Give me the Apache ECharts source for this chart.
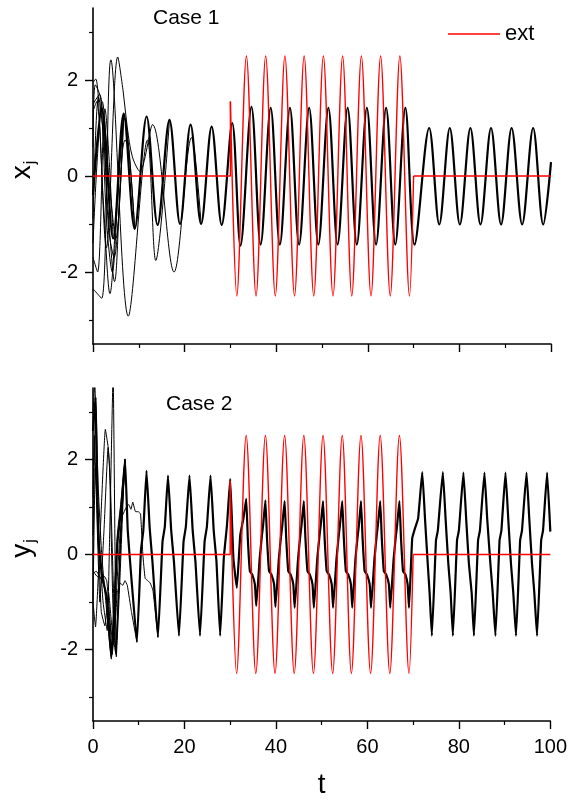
<!DOCTYPE html>
<html>
<head>
<meta charset="utf-8">
<script src="https://cdn.jsdelivr.net/npm/echarts@6/dist/echarts.min.js"></script>
<style>
  html, body { margin: 0; padding: 0; background: #fff; }
  #chart { width: 570px; height: 800px; }
</style>
</head>
<body>
<div id="chart"></div>
<script>
  // axis ticks
  var tTicks = [0, 20, 40, 60, 80, 100];
  var yMajor = [-2, 0, 2];
  var yMinor = [-3, -1, 1, 3];

  // external drive "ext" (same in both panels): off, on for 30 < t < 70, off
  var extBefore = [[0, 0], [30, 0], [30, 1.55]];
  var extOn = [[30, 1.55], [31.4, -2.5], [33.5, 2.5], [35.6, -2.5], [37.7, 2.5], [39.8, -2.5],
    [41.9, 2.5], [44.0, -2.5], [46.1, 2.5], [48.2, -2.5], [50.3, 2.5], [52.4, -2.5],
    [54.5, 2.5], [56.5, -2.5], [58.6, 2.5], [60.7, -2.5], [62.8, 2.5], [64.9, -2.5],
    [67.0, 2.5], [69.1, -2.5], [70, 0]];
  var extAfter = [[70, 0], [100, 0]];

  // Case 1, x_j : common (synchronized) trajectory
  var xMain = [[0, -0.4], [1.9, 1.4], [4.4, -1.3], [6.7, 1.3], [9.1, -1.1], [11.7, 1.24],
    [14.1, -1.02], [16.7, 1.17], [19.0, -1.0], [21.3, 1.07], [23.6, -1.0], [25.9, 1.03],
    [28.1, -1.02], [30.4, 1.1], [32.2, -1.45], [34.6, 1.44], [36.6, -1.43], [38.8, 1.42],
    [40.8, -1.43], [43.0, 1.42], [45.0, -1.43], [47.2, 1.42], [49.2, -1.43], [51.4, 1.42],
    [53.4, -1.43], [55.6, 1.42], [57.6, -1.43], [59.8, 1.42], [61.8, -1.43], [64.0, 1.42],
    [66.0, -1.43], [68.2, 1.42], [70.2, -1.43], [73.4, 1.0], [75.6, -1.01], [77.9, 1.0],
    [80.1, -1.01], [82.4, 1.0], [84.6, -1.01], [86.9, 1.0], [89.1, -1.01], [91.4, 1.0],
    [93.7, -1.01], [96.1, 1.0], [98.3, -1.01], [100, 0.29]];
  // Case 1 transients of the other units
  var xA = [[0, -2.35], [1.9, -2.55], [3.9, 2.42], [7.7, -2.92], [11.9, 0.75], [13.7, -1.76], [16.7, 1.17]];
  var xB = [[0, 1.35], [0.8, 1.55], [2.9, -1.5], [5.4, 2.48], [6.6, 1.75], [7.5, 1.0], [8.6, 0.4],
    [10.2, 0.1], [13.0, 1.07], [17.7, -2.0], [21.5, 0.8], [23.6, -1.0]];
  var xC = [[0, 1.95], [0.6, 2.02], [2.3, -0.6], [3.7, -2.45], [5.3, -0.4], [6.7, 1.3]];
  var xD = [[0, -0.9], [1.2, 1.65], [2.5, 0.6], [3.4, -1.1], [4.6, -1.7], [6.7, 1.3]];
  var xE = [[0, 1.5], [1.4, 1.7], [3.2, -0.6], [4.7, -2.2], [6.2, 0.3], [7.0, 0.75], [7.8, 0.55], [9.1, -1.1]];
  var xF = [[0, -1.4], [0.9, 0.3], [2.0, 1.55], [3.6, -0.2], [5.0, -1.3], [6.7, 1.3]];
  var xG = [[0, 0.6], [0.5, 1.9], [1.7, 1.6], [3.0, -1.0], [4.2, -2.0], [5.7, 0.1], [6.9, 1.2], [9.1, -1.1]];
  var xH = [[0, -1.7], [1.0, -2.0], [2.6, 1.4], [4.4, -1.3]];

  // Case 2, y_j : common (synchronized) trajectory
  var yMain = [[0, 2.6], [0.5, 3.3], [1.2, 0.3], [2.0, -0.45], [3.0, -0.9], [4.0, -2.15], [4.6, -1.3],
    [5.3, 0.2], [6.2, 1.0], [7.0, 2.0], [7.6, 0.5], [8.4, -0.5], [9.6, -1.84], [10.5, 0.1], [11.0, 0.5],
    [11.7, 1.76], [12.4, 0.55], [13.0, -0.15], [14.2, -1.74], [15.2, 0.27], [15.7, 0.58],
    [16.4, 1.66], [17.1, 0.5], [17.7, -0.15], [18.8, -1.71], [19.8, 0.27], [20.3, 0.58],
    [21.1, 1.66], [21.8, 0.5], [22.4, -0.15], [23.4, -1.71], [24.4, 0.27], [24.9, 0.58],
    [25.7, 1.66], [26.4, 0.5], [27.0, -0.15], [27.8, -1.71], [28.6, -0.08], [29.3, 0.62],
    [30.0, 1.59], [30.7, -0.08], [31.45, -0.7], [32.2, 0.41], [32.9, 0.76],
    [33.5, 1.17], [33.85, 0.34], [34.3, -0.35], [34.8, -0.42], [35.4, -0.63], [35.7, -1.08], [36.45, -0.08], [36.95, 0.41], [37.2, 0.62],
    [37.7, 1.14], [38.05, 0.34], [38.5, -0.35], [39.0, -0.42], [39.6, -0.63], [39.9, -1.1], [40.65, -0.08], [41.15, 0.41], [41.4, 0.62],
    [41.9, 1.12], [42.25, 0.34], [42.7, -0.35], [43.2, -0.42], [43.8, -0.63], [44.1, -1.12], [44.85, -0.08], [45.35, 0.41], [45.6, 0.62],
    [46.1, 1.12], [46.45, 0.34], [46.9, -0.35], [47.4, -0.42], [48.0, -0.63], [48.3, -1.12], [49.05, -0.08], [49.55, 0.41], [49.8, 0.62],
    [50.3, 1.12], [50.65, 0.34], [51.1, -0.35], [51.6, -0.42], [52.2, -0.63], [52.5, -1.12], [53.25, -0.08], [53.75, 0.41], [54.0, 0.62],
    [54.5, 1.12], [54.85, 0.34], [55.3, -0.35], [55.8, -0.42], [56.4, -0.63], [56.7, -1.12], [57.4, -0.08], [57.9, 0.41], [58.15, 0.62],
    [58.6, 1.12], [58.95, 0.34], [59.4, -0.35], [59.9, -0.42], [60.5, -0.63], [60.8, -1.12], [61.55, -0.08], [62.05, 0.41], [62.3, 0.62],
    [62.8, 1.12], [63.15, 0.34], [63.6, -0.35], [64.1, -0.42], [64.7, -0.63], [65.0, -1.12], [65.75, -0.08], [66.25, 0.41], [66.5, 0.62],
    [67.0, 1.12], [67.35, 0.34], [67.8, -0.35], [68.3, -0.42], [68.8, -0.63], [69.1, -1.12], [69.8, 0.34], [70.4, 0.55], [71.1, 0.76],
    [72.0, 1.73], [72.6, 0.75], [73.2, -0.2], [73.6, -0.8], [74.1, -1.71], [75.0, 0.3], [75.4, 0.5],
    [76.5, 1.73], [77.1, 0.75], [77.7, -0.2], [78.2, -0.8], [78.7, -1.71], [79.6, 0.3], [80.0, 0.5],
    [81.0, 1.72], [81.6, 0.75], [82.2, -0.2], [82.8, -0.8], [83.3, -1.71], [84.2, 0.3], [84.6, 0.5],
    [85.6, 1.72], [86.2, 0.75], [86.9, -0.2], [87.4, -0.8], [88.0, -1.71], [88.9, 0.3], [89.3, 0.5],
    [90.2, 1.72], [90.8, 0.75], [91.4, -0.2], [91.9, -0.8], [92.5, -1.71], [93.4, 0.3], [93.8, 0.5],
    [94.8, 1.72], [95.4, 0.75], [96.0, -0.2], [96.5, -0.8], [97.1, -1.71], [98.0, 0.3], [98.4, 0.5],
    [99.3, 1.72], [100, 0.48]];
  // Case 2 transients of the other units
  var yA = [[0, 0.4], [0.6, 3.3], [1.1, 1.5], [1.9, 0.0], [3.0, -1.2], [4.0, -2.2], [4.6, -1.0], [5.3, 0.4], [6.1, 1.1], [7.0, 2.0]];
  var yB = [[0, -1.0], [0.5, 1.8], [1.4, 0.2], [2.2, -1.0], [3.1, -1.6], [3.6, 0.2], [4.4, 3.8], [5.1, -2.15], [5.9, -0.5], [6.6, 1.2], [7.0, 2.0]];
  var yC = [[0, -1.0], [0.55, -1.52], [1.6, 0.5], [2.7, 2.63], [3.3, 2.27], [3.6, 1.9], [4.5, -1.6], [5.0, -2.0], [6.0, 0.3], [7.0, 2.0]];
  var yD = [[0, -0.35], [0.8, -0.45], [1.6, -0.5], [2.4, -0.45], [3.0, -0.55], [3.6, -1.2], [4.2, -2.1], [5.0, -1.0],
    [5.8, 0.3], [6.4, 0.8], [7.3, 1.0], [7.8, 1.05], [8.3, 0.95], [8.7, 1.1], [9.3, 0.9], [9.9, 0.9], [10.4, 0.85],
    [10.9, 0.0], [11.4, -0.5], [12.0, -0.55], [12.5, -0.6], [13.1, -0.75], [14.2, -1.74]];
  var yE = [[0, -0.4], [0.7, -0.35], [1.4, -0.45], [2.2, -0.6], [3.0, -0.9], [3.8, -1.5], [4.5, -1.9], [5.3, -0.8],
    [6.0, -0.6], [6.5, -0.65], [7.0, -0.55], [7.5, -0.65], [8.4, -1.2], [9.6, -1.84]];
  var yF = [[0, 1.2], [0.3, 2.5], [0.8, 1.0], [1.5, -1.0], [2.4, 0.5], [3.3, 2.25], [3.8, 1.5], [4.4, -0.5], [5.0, -2.05], [5.8, -0.2], [6.5, 1.4], [7.0, 2.0]];
  var yG = [[0, 3.0], [0.4, 3.6], [1.0, 0.9], [1.8, -1.2], [2.6, -1.5], [3.4, -0.8], [4.2, -1.6], [5.0, -2.1], [6.0, 0.2], [7.0, 2.0]];

  var xThin = [xA, xB, xC, xD, xE, xF, xG, xH];
  var yThin = [yA, yB, yC, yD, yE, yF, yG];

  var FONT = 'Liberation Sans';
  var RED = '#ff0000';
  var chart = echarts.init(document.getElementById('chart'));

  function curve(data, panel, width, smooth) {
    return {
      type: 'line', data: data, xAxisIndex: panel, yAxisIndex: panel * 2,
      symbol: 'none', smooth: smooth, silent: true,
      lineStyle: {color: '#000', width: width}
    };
  }
  function ext(data, panel, smooth) {
    return {
      name: 'ext', type: 'line', data: data, xAxisIndex: panel, yAxisIndex: panel * 2,
      symbol: 'none', smooth: smooth, silent: true, z: 5,
      itemStyle: {color: RED},
      lineStyle: {color: RED, width: 1.4}
    };
  }
  function xAxis(idx, showLabel) {
    return {
      type: 'value', gridIndex: idx, min: tTicks[0], max: tTicks[tTicks.length - 1], interval: 20,
      axisLine: {onZero: false, lineStyle: {color: '#000', width: 1.6}},
      axisTick: {length: 8, lineStyle: {color: '#000', width: 1.4}},
      minorTick: {show: true, splitNumber: 2, length: 4, lineStyle: {color: '#000', width: 1.2}},
      splitLine: {show: false},
      axisLabel: {show: showLabel, color: '#000', fontSize: 20, fontFamily: FONT, margin: 16},
      name: showLabel ? 't' : '', nameLocation: 'middle', nameGap: 50,
      nameTextStyle: {color: '#000', fontSize: 28, fontFamily: FONT}
    };
  }
  function yAxes(idx, letter) {
    return [{
      type: 'value', gridIndex: idx, position: 'left', min: -3.5, max: 3.5,
      axisLine: {onZero: false, lineStyle: {color: '#000', width: 1.6}},
      axisTick: {customValues: yMajor, length: 8, lineStyle: {color: '#000', width: 1.4}},
      axisLabel: {customValues: yMajor, color: '#000', fontSize: 20, fontFamily: FONT, margin: 15},
      splitLine: {show: false},
      name: '{v|' + letter + '}{s|j}', nameLocation: 'middle', nameGap: 54,
      nameTextStyle: {
        color: '#000', padding: [0, 0, 0, 12],
        rich: {
          v: {fontSize: 28, fontFamily: FONT, color: '#000'},
          s: {fontSize: 16, fontFamily: FONT, color: '#000', padding: [18, 0, 0, 1]}
        }
      }
    }, {
      type: 'value', gridIndex: idx, position: 'left', min: -3.5, max: 3.5,
      axisLine: {show: false},
      axisTick: {customValues: yMinor, length: 4, lineStyle: {color: '#000', width: 1.2}},
      axisLabel: {show: false},
      splitLine: {show: false}
    }];
  }

  var series = [];
  xThin.forEach(function (d) { series.push(curve(d, 0, 1, 0.33)); });
  series.push(curve(xMain, 0, 2.2, 0.33));
  yThin.forEach(function (d) { series.push(curve(d, 1, 1, 0.12)); });
  series.push(curve(yMain, 1, 2.2, 0.12));
  [0, 1].forEach(function (p) {
    series.push(ext(extBefore, p, false));
    series.push(ext(extOn, p, 0.33));
    series.push(ext(extAfter, p, false));
  });

  var option = {
    animation: false,
    backgroundColor: '#fff',
    grid: [
      {left: 92, top: 8, width: 459, height: 336},
      {left: 92, top: 388, width: 459, height: 336}
    ],
    xAxis: [xAxis(0, false), xAxis(1, true)],
    yAxis: yAxes(0, 'x').concat(yAxes(1, 'y')),
    legend: {
      data: [{name: 'ext', icon: 'rect'}], left: 443, top: 18, itemWidth: 52, itemHeight: 1.4, itemGap: 8,
      textStyle: {color: '#000', fontSize: 22, fontFamily: FONT}
    },
    graphic: [
      {type: 'text', left: 153, top: 8, style: {text: 'Case 1', fill: '#000', font: '21px "Liberation Sans"'}},
      {type: 'text', left: 166, top: 394, style: {text: 'Case 2', fill: '#000', font: '21px "Liberation Sans"'}}
    ],
    series: series
  };
  chart.setOption(option);
</script>
</body>
</html>
